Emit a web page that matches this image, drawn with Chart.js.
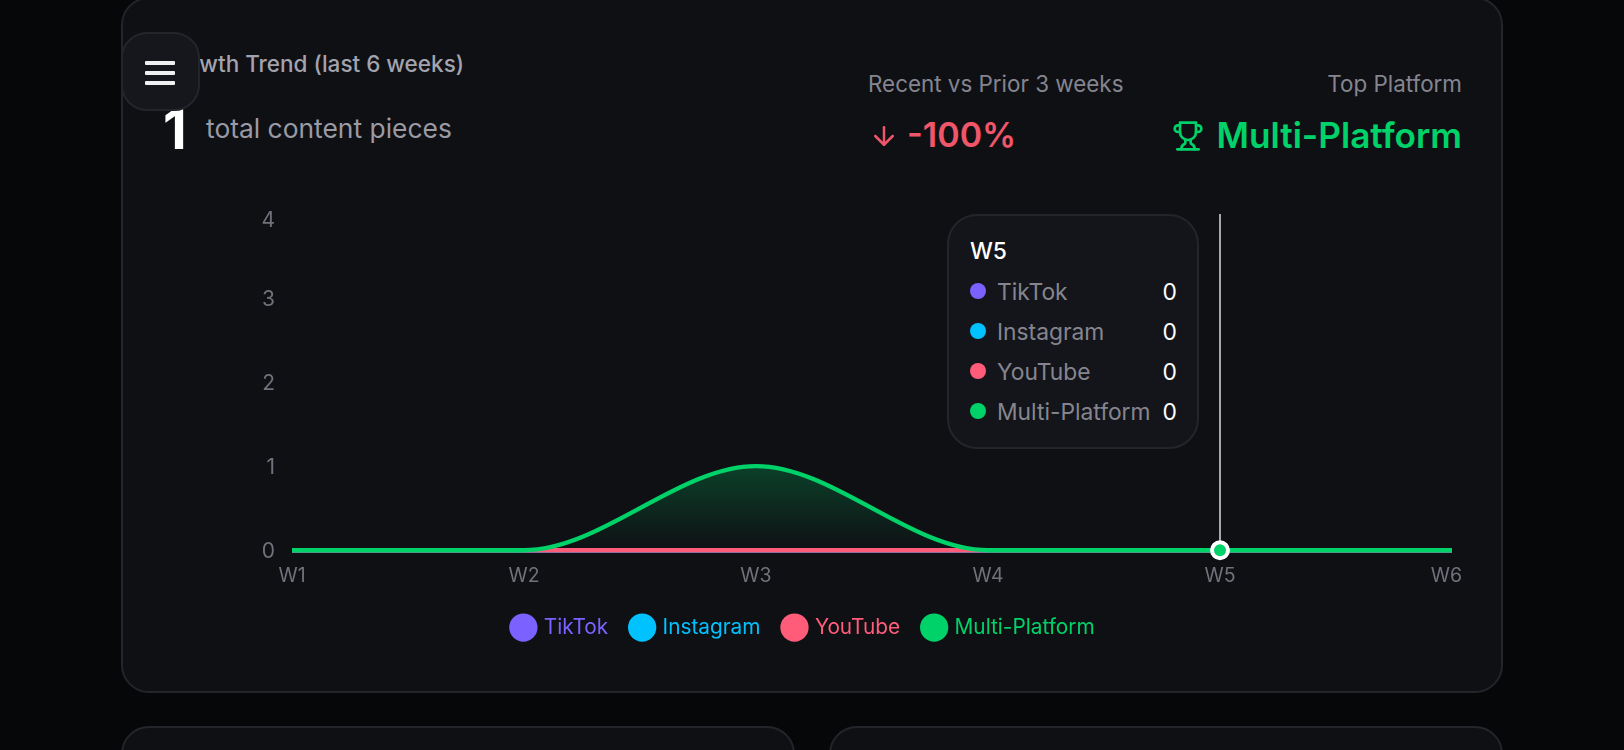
<!DOCTYPE html>
<html>
<head>
<meta charset="utf-8">
<title>Growth Trend</title>
<script src="https://cdn.jsdelivr.net/npm/chart.js@4"></script>
<style>
  html, body { margin: 0; height: 750px; width: 1624px; overflow: hidden; background: #060709; font-family: Inter, "Noto Sans", sans-serif; }
  .card { position: absolute; box-sizing: border-box; background: #0f1014; border: 2px solid #24252a; border-radius: 28px; }
  .txt { position: absolute; white-space: nowrap; line-height: 1; }
  #menu { position: absolute; left: 121px; top: 32px; width: 79px; height: 79px; box-sizing: border-box; background: #16171c; border: 2px solid #24252b; border-radius: 26px; }
  #menu i { position: absolute; left: 22px; width: 30px; height: 3.5px; background: #f0f0f2; border-radius: 1px; }
  #growth { position: absolute; left: 138px; top: 191px; }
  #tip { position: absolute; box-sizing: border-box; width: 252px; height: 235px; padding: 22px 20px 0 21px; background: #14151a; border: 2px solid #24252b; border-radius: 30px; font-size: 22.8px; }
  #tip .t { color: #fff; font-weight: 500; line-height: 26px; margin-bottom: 7px; }
  #tip .r { display: flex; align-items: center; height: 40px; color: #85858f; }
  #tip .d { width: 16px; height: 16px; border-radius: 50%; margin-right: 11px; }
  #tip .v { margin-left: auto; color: #fff; }
  svg { position: absolute; fill: none; stroke-linecap: round; stroke-linejoin: round; }
</style>
</head>
<body>
<div class="card" style="left:121px;top:-3px;width:1382px;height:696px"></div>
<div class="card" style="left:121px;top:726px;width:674px;height:60px"></div>
<div class="card" style="left:829px;top:726px;width:674px;height:60px"></div>

<div class="txt" id="title" style="left:161px;top:53px;font-size:22.5px;font-weight:500;color:#a3a3ae">Growth Trend (last 6 weeks)</div>
<div class="txt" style="left:163px;top:102px;font-size:55px;font-weight:700;color:#fff">1</div>
<div class="txt" style="left:206px;top:115px;font-size:26.4px;color:#9a9aa5">total content pieces</div>

<div class="txt" style="left:868px;top:73px;font-size:22.4px;color:#85858f">Recent vs Prior 3 weeks</div>
<svg style="left:869px;top:121px" width="30" height="30" viewBox="0 0 24 24" stroke="#f0566a" stroke-width="2"><path d="M12 5v14"/><path d="m19 12-7 7-7-7"/></svg>
<div class="txt" style="left:907px;top:118px;font-size:34px;font-weight:600;color:#f0566a">-100%</div>

<div class="txt" style="right:162px;top:73px;font-size:22.4px;color:#85858f">Top Platform</div>
<svg style="left:1172px;top:120px" width="32" height="32" viewBox="0 0 24 24" stroke="#00d26a" stroke-width="2"><path d="M6 9H4.5a2.5 2.5 0 0 1 0-5H6"/><path d="M18 9h1.5a2.5 2.5 0 0 0 0-5H18"/><path d="M4 22h16"/><path d="M10 14.66V17c0 .55-.47.98-.97 1.21C7.85 18.75 7 20.24 7 22"/><path d="M14 14.66V17c0 .55.47.98.97 1.21C16.15 18.75 17 20.24 17 22"/><path d="M18 2H6v7a6 6 0 0 0 12 0V2Z"/></svg>
<div class="txt" style="right:162px;top:118px;font-size:35.2px;font-weight:600;color:#00d26a">Multi-Platform</div>

<canvas id="growth" width="1356" height="457"></canvas>
<div id="tip"></div>

<div id="menu"><i style="top:27px"></i><i style="top:37px"></i><i style="top:47px"></i></div>

<script>
const weeks = ['W1', 'W2', 'W3', 'W4', 'W5', 'W6'];
const platforms = ['TikTok', 'Instagram', 'YouTube', 'Multi-Platform'];
const colors = ['#7b61ff', '#00c2ff', '#ff5c7a', '#00d26a'];
const tiktok = [0, 0, 0, 0, 0, 0];
const instagram = [0, 0, 0, 0, 0, 0];
const youtube = [0, 0, 0, 0, 0, 0];
const multiPlatform = [0, 0, 1, 0, 0, 0];
const seriesValues = [tiktok, instagram, youtube, multiPlatform];
const yMax = 4;
const activeWeek = 4;

function areaFill(context, color) {
    const { chart } = context;
    if (!chart.chartArea) return 'transparent';
    const y = chart.scales.y;
    const g = chart.ctx.createLinearGradient(0, y.getPixelForValue(1), 0, y.getPixelForValue(0));
    g.addColorStop(0, color + '40');
    g.addColorStop(1, color + '00');
    return g;
}

// html tooltip, the value column has to sit flush right
function renderTip({ chart, tooltip }) {
    const tip = document.getElementById('tip');
    const rows = tooltip.dataPoints.map(p =>
        '<div class="r"><span class="d" style="background:' + colors[p.datasetIndex] + '"></span>' +
        p.dataset.label + '<span class="v">' + p.formattedValue + '</span></div>');
    tip.innerHTML = '<div class="t">' + tooltip.title[0] + '</div>' + rows.join('');
    const canvas = chart.canvas;
    tip.style.left = (canvas.offsetLeft + tooltip.caretX - 21 - tip.offsetWidth) + 'px';
    tip.style.top = (canvas.offsetTop + chart.chartArea.top) + 'px';
}

const crosshair = {
    id: 'crosshair',
    beforeDatasetsDraw(chart) {
        const active = chart.getActiveElements();
        if (!active.length) return;
        const { ctx, chartArea } = chart;
        ctx.save();
        ctx.strokeStyle = 'rgba(255,255,255,0.85)';
        ctx.lineWidth = 1.5;
        ctx.beginPath();
        ctx.moveTo(active[0].element.x, chartArea.top);
        ctx.lineTo(active[0].element.x, chartArea.bottom);
        ctx.stroke();
        ctx.restore();
    }
};

const chart = new Chart(document.getElementById('growth'), {
    type: 'line',
    plugins: [crosshair],
    data: {
        labels: weeks,
        datasets: platforms.map((name, i) => ({
            label: name,
            data: seriesValues[i],
            order: platforms.length - i,
            borderColor: colors[i],
            borderWidth: 4.4,
            backgroundColor: ctx => areaFill(ctx, colors[i]),
            fill: 'origin',
            cubicInterpolationMode: 'monotone',
            clip: 14,
            pointRadius: 0,
            pointHoverRadius: i === 3 ? 8 : 0,
            pointHoverBorderWidth: 4,
            pointHoverBackgroundColor: colors[i],
            pointHoverBorderColor: '#fff'
        }))
    },
    options: {
        responsive: false,
        animation: false,
        events: [],
        // left padding only moves the legend's centre, the y axis gives it back
        layout: { padding: { top: 10, right: 42, left: 18, bottom: 0 } },
        scales: {
            x: {
                grid: { display: false },
                border: { display: false },
                afterFit: s => { s.height = 43; },
                ticks: {
                    color: '#70717a',
                    font: { size: 19.5, family: 'Inter' },
                    padding: 6,
                    maxRotation: 0,
                    autoSkip: false,
                    // last label sits a little left of its tick
                    callback: (v, i) => i === weeks.length - 1 ? weeks[i] + '\u00a0\u00a0' : weeks[i]
                }
            },
            y: {
                min: 0,
                max: yMax,
                grid: { display: false },
                border: { display: false },
                afterFit: s => { s.width = 136; },
                ticks: {
                    stepSize: 1,
                    color: '#70717a',
                    padding: 9,
                    // blank first line pushes each label down by half the line height
                    callback: v => ['', String(v)],
                    font: c => ({ size: 21, family: 'Inter', lineHeight: c.tick && c.tick.value === yMax ? '14px' : '3px' })
                }
            }
        },
        plugins: {
            tooltip: { enabled: false, mode: 'index', intersect: false, external: renderTip },
            legend: {
                position: 'bottom',
                labels: {
                    usePointStyle: true,
                    boxWidth: 20,
                    boxHeight: 20,
                    padding: 24,
                    font: { size: 20.8, family: 'Inter' },
                    generateLabels: () => platforms.map((name, i) => ({
                        text: name,
                        datasetIndex: i,
                        fillStyle: colors[i],
                        strokeStyle: colors[i],
                        fontColor: colors[i],
                        lineWidth: 0,
                        pointStyle: 'circle'
                    }))
                }
            }
        }
    }
});

const active = platforms.map((_, i) => ({ datasetIndex: i, index: activeWeek }));
chart.setActiveElements(active);
chart.tooltip.setActiveElements(active, { x: 0, y: 0 });
chart.update();
</script>
</body>
</html>
